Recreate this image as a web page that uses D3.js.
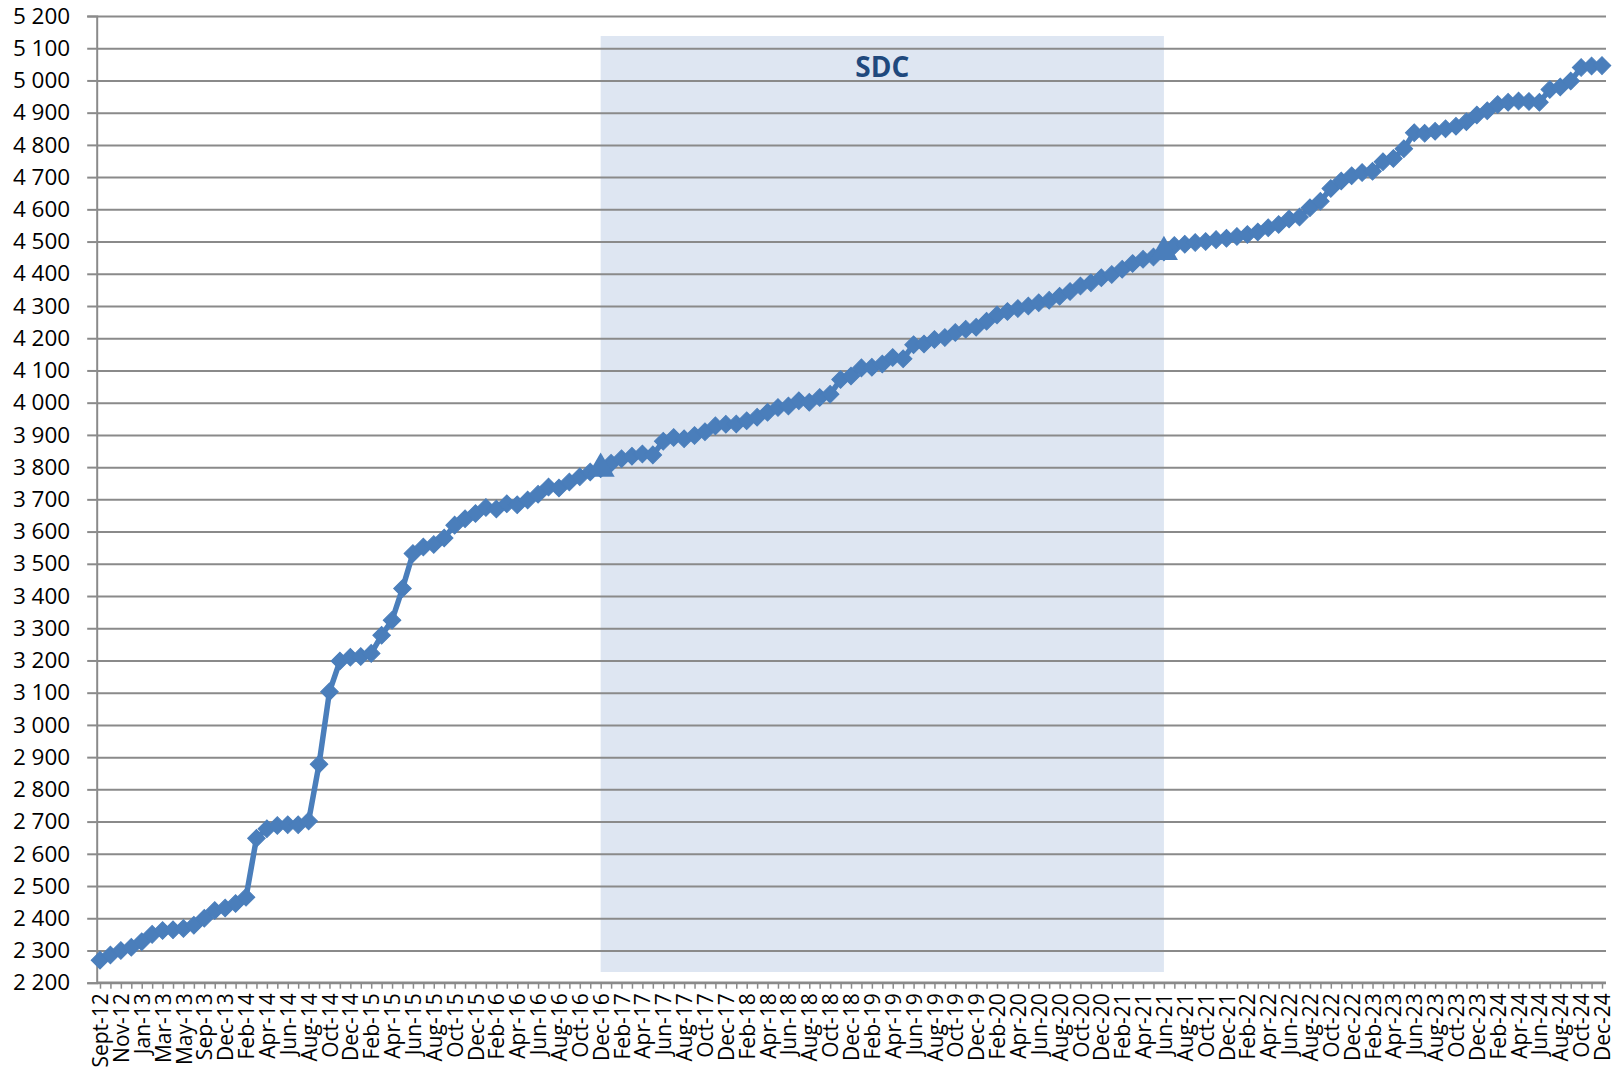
<!DOCTYPE html>
<html>
<head>
<meta charset="utf-8">
<script src="https://cdn.jsdelivr.net/npm/d3@7"></script>
<style>
  body { margin: 0; background: #ffffff; }
  svg { display: block; }
</style>
</head>
<body>
<script>
// Months shown on the category axis (two months are missing in 2013)
const months2012 = ['Sept-12', 'Oct-12', 'Nov-12', 'Dec-12'];
const months2013 = ['Jan-13', 'Feb-13', 'Mar-13', 'Apr-13', 'May-13', 'Jul-13', 'Sep-13', 'Nov-13', 'Dec-13'];
const monthNames = ['Jan', 'Feb', 'Mar', 'Apr', 'May', 'Jun', 'Jul', 'Aug', 'Sep', 'Oct', 'Nov', 'Dec'];
const fullYears = ['14', '15', '16', '17', '18', '19', '20', '21', '22', '23', '24'];

const categories = months2012.concat(months2013,
    fullYears.flatMap(yy => monthNames.map(m => `${m}-${yy}`)));

// Values, one row per year
const values = [
    2270, 2286, 2300, 2310,
    2327, 2350, 2362, 2364, 2368, 2378, 2400, 2424, 2432,
    2446, 2465, 2648, 2678, 2688, 2690, 2690, 2702, 2878, 3103, 3198, 3210,
    3212, 3222, 3278, 3325, 3423, 3532, 3552, 3560, 3580, 3620, 3640, 3656,
    3675, 3670, 3686, 3683, 3698, 3716, 3738, 3735, 3754, 3770, 3785, 3795,
    3812, 3826, 3834, 3841, 3838, 3880, 3892, 3888, 3898, 3910, 3928, 3933,
    3934, 3944, 3955, 3970, 3985, 3990, 4006, 4001, 4016, 4026, 4072, 4083,
    4108, 4110, 4120, 4140, 4136, 4180, 4182, 4196, 4202, 4218, 4228, 4234,
    4253, 4272, 4283, 4292, 4300, 4310, 4318, 4330, 4345, 4362, 4372, 4388,
    4398, 4414, 4432, 4445, 4452, 4468, 4488, 4492, 4497, 4500, 4506, 4510,
    4516, 4522, 4530, 4543, 4553, 4570, 4576, 4605, 4625, 4665, 4688, 4704,
    4714, 4718, 4748, 4758, 4788, 4838, 4836, 4842, 4850, 4858, 4872, 4893,
    4906, 4925, 4932, 4936, 4935, 4932, 4972, 4980, 4998, 5040, 5045, 5046
];

const yTicks = d3.range(2200, 5201, 100);
const sdcPeriod = ['Dec-16', 'Jun-21'];
const sdcLabel = 'SDC';

const WIDTH = 1617;
const HEIGHT = 1073;
const AXIS_X0 = 96.7;
const AXIS_X1 = 1606;
const AXIS_Y0 = 982.7;
const AXIS_Y1 = 16;

const COLOR_LINE = '#4a7ebb';
const COLOR_GRID = '#8a8a8a';
const COLOR_SDC = '#dee6f2';
const COLOR_SDC_TEXT = '#1f497d';
const FONT = "'Open Sans', 'Liberation Sans', sans-serif";

const data = categories.map((c, i) => ({ cat: c, value: values[i] }));

const svg = d3.select('body').append('svg')
    .attr('width', WIDTH)
    .attr('height', HEIGHT);

const x = d3.scalePoint()
    .domain(categories)
    .range([100, 1602]);

const y = d3.scaleLinear()
    .domain([2200, 5200])
    .range([AXIS_Y0, AXIS_Y1]);

// SDC band
const sdcX0 = x(sdcPeriod[0]);
const sdcX1 = x(sdcPeriod[1]);
svg.append('rect')
    .attr('x', sdcX0)
    .attr('y', 36)
    .attr('width', sdcX1 - sdcX0)
    .attr('height', 972 - 36)
    .attr('fill', COLOR_SDC);

svg.append('text')
    .attr('x', (sdcX0 + sdcX1) / 2)
    .attr('y', 66)
    .attr('text-anchor', 'middle')
    .attr('dominant-baseline', 'central')
    .attr('font-family', FONT)
    .attr('font-weight', 'bold')
    .attr('font-size', 28)
    .attr('fill', COLOR_SDC_TEXT)
    .text(sdcLabel);

// Gridlines
const grid = svg.append('g')
    .attr('transform', `translate(${AXIS_X0},0)`)
    .call(d3.axisRight(y).tickValues(yTicks).tickSize(AXIS_X1 - AXIS_X0).tickFormat(''));
grid.select('.domain').remove();
grid.selectAll('line').attr('stroke', COLOR_GRID).attr('stroke-width', 2);

// Y axis
const fmt = d3.formatLocale({ decimal: ',', thousands: ' ', grouping: [3], currency: ['', ''] }).format(',d');
const yAxis = svg.append('g')
    .attr('transform', `translate(${AXIS_X0},0)`)
    .call(d3.axisLeft(y).tickValues(yTicks).tickSize(9.5).tickPadding(17).tickFormat(fmt));
yAxis.select('.domain').attr('stroke', COLOR_GRID).attr('stroke-width', 2);
yAxis.selectAll('line').attr('stroke', COLOR_GRID).attr('stroke-width', 2);
yAxis.selectAll('text')
    .attr('font-family', FONT)
    .attr('font-size', 22.5)
    .attr('fill', '#000');

// X axis
const xAxis = svg.append('g')
    .attr('transform', `translate(0,${AXIS_Y0})`)
    .call(d3.axisBottom(x).tickSize(6).tickSizeOuter(0)
        .tickFormat((d, i) => (i % 2 === 0 ? d : '')));
xAxis.select('.domain')
    .attr('d', `M${AXIS_X0},0H${AXIS_X1}`)
    .attr('stroke', COLOR_GRID)
    .attr('stroke-width', 2.5);
xAxis.selectAll('line').attr('stroke', COLOR_GRID).attr('stroke-width', 1.5);
xAxis.selectAll('text')
    .attr('font-family', FONT)
    .attr('font-size', 21)
    .attr('fill', '#000')
    .attr('text-anchor', 'end')
    .attr('transform', 'rotate(-90)')
    .attr('x', -10.5)
    .attr('y', 0)
    .attr('dy', '0.36em');

// Series line
const line = d3.line()
    .x(d => x(d.cat))
    .y(d => y(d.value));

svg.append('path')
    .datum(data)
    .attr('fill', 'none')
    .attr('stroke', COLOR_LINE)
    .attr('stroke-width', 5.5)
    .attr('stroke-linejoin', 'round')
    .attr('d', line);

// Diamond markers
const diamond = d3.symbol().type(d3.symbolSquare).size(155);
svg.append('g')
    .selectAll('path')
    .data(data)
    .join('path')
    .attr('d', diamond)
    .attr('transform', d => `translate(${x(d.cat)},${y(d.value)}) rotate(45)`)
    .attr('fill', COLOR_LINE)
    .attr('stroke', COLOR_LINE)
    .attr('stroke-width', 1);

// Triangle markers at the SDC start and end
const triangle = d3.symbol().type(d3.symbolTriangle).size(340);
svg.append('g')
    .selectAll('path')
    .data(data.filter(d => sdcPeriod.includes(d.cat)))
    .join('path')
    .attr('d', triangle)
    .attr('transform', d => `translate(${x(d.cat)},${y(d.value)})`)
    .attr('fill', COLOR_LINE);
</script>
</body>
</html>
